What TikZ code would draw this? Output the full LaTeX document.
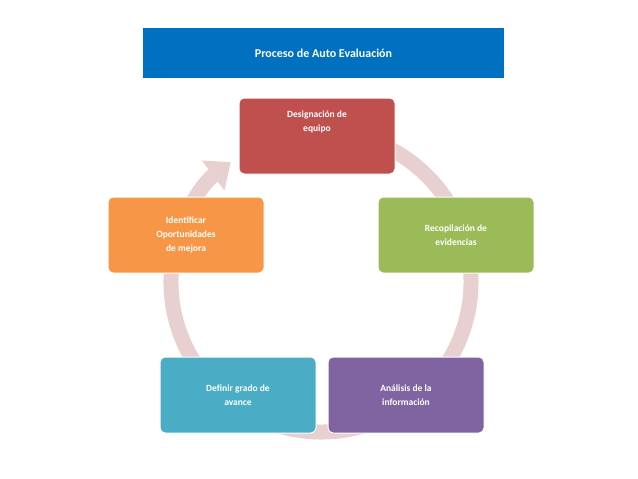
\documentclass[tikz,border=0pt]{standalone}
\usepackage{fontspec}
\setmainfont{Carlito}
\usetikzlibrary{arrows.meta}
\definecolor{tb}{HTML}{0070C0}
\definecolor{cr}{HTML}{C0504D}
\definecolor{cg}{HTML}{9BBB59}
\definecolor{cp}{HTML}{8064A2}
\definecolor{ct}{HTML}{4BACC6}
\definecolor{co}{HTML}{F79646}
\definecolor{ring}{HTML}{E8CFD0}
\begin{document}
\begin{tikzpicture}[x=1pt,y=-1pt,
  box/.style={rounded corners=5pt,minimum width=156pt,minimum height=76pt,text=white,font=\bfseries\fontsize{9.5}{14}\selectfont,align=center,draw=white,line width=1pt}]
\useasboundingbox[fill=white] (0,0) rectangle (638,479);
\node[fill=tb,minimum width=361pt,minimum height=50pt,text=white,font=\bfseries\fontsize{12}{14}\selectfont] (t) at (323.5,53) {Proceso de Auto Evaluación};
\coordinate (c) at (321,282);
\draw[ring,line width=15pt,-{Triangle[length=22pt,width=36pt]}] (c) ++(-80:150) arc[start angle=-80,end angle=233,radius=150];
\node[box,fill=cr,text depth=30pt] (a) at (317,136) {Designación de\\equipo};
\node[box,fill=cg] (b) at (456,235) {Recopilación de\\evidencias};
\node[box,fill=cp] (d) at (406,395) {Análisis de la\\información};
\node[box,fill=ct] (e) at (238,395) {Definir grado de\\avance};
\node[box,fill=co] (f) at (186,235) {Identificar\\Oportunidades\\de mejora};
\end{tikzpicture}
\end{document}
